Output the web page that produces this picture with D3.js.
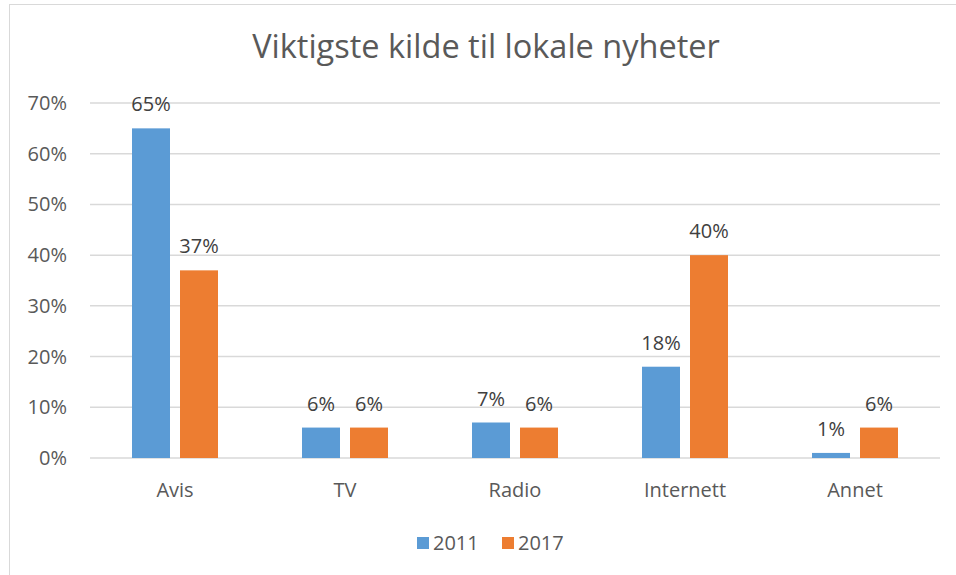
<!DOCTYPE html>
<html>
<head>
<meta charset="utf-8">
<script src="https://cdn.jsdelivr.net/npm/d3@7"></script>
<style>
  body { margin: 0; background: #fff; }
  text { font-family: "Open Sans", "Noto Sans", sans-serif; }
</style>
</head>
<body>
<script>
// Données
const categories = ["Avis", "TV", "Radio", "Internett", "Annet"];
const series = ["2011", "2017"];
const values2011 = [65, 6, 7, 18, 1];
const values2017 = [37, 6, 6, 40, 6];
const yTicks = [0, 10, 20, 30, 40, 50, 60, 70];
const colors = ["#5B9BD5", "#ED7D31"];

const width = 956, height = 575;

const svg = d3.select("body").append("svg")
    .attr("width", width)
    .attr("height", height);

// cadre du graphique
svg.append("rect")
    .attr("x", 9.5).attr("y", 4.5)
    .attr("width", 960).attr("height", 600)
    .attr("fill", "#fff")
    .attr("stroke", "#D9D9D9");

const y = d3.scaleLinear().domain([0, 70]).range([458, 103]);
const x0 = d3.scaleBand().domain(categories).range([90, 940]);
const x1 = d3.scaleBand().domain(series).range([42, 128]).paddingInner(0.2083);

// titre
svg.append("text")
    .attr("x", 486).attr("y", 58)
    .attr("text-anchor", "middle")
    .style("font-size", "32.5px")
    .style("fill", "#595959")
    .text("Viktigste kilde til lokale nyheter");

// grille
svg.append("g").selectAll("line")
    .data(yTicks)
    .enter().append("line")
    .attr("x1", 90).attr("x2", 940)
    .attr("y1", d => y(d)).attr("y2", d => y(d))
    .style("stroke", "#D9D9D9")
    .style("stroke-width", 1.5);

// étiquettes de l'axe Y
svg.append("g").selectAll("text")
    .data(yTicks)
    .enter().append("text")
    .attr("x", 67)
    .attr("y", d => y(d))
    .attr("dy", "0.35em")
    .attr("text-anchor", "end")
    .style("font-size", "20px")
    .style("fill", "#595959")
    .text(d => d + "%");

// barres
const rows = categories.map((c, i) => ({ cat: c, vals: [values2011[i], values2017[i]] }));

const groups = svg.append("g").selectAll("g")
    .data(rows)
    .enter().append("g")
    .attr("transform", d => `translate(${x0(d.cat)},0)`);

groups.selectAll("rect")
    .data(d => d.vals.map((v, i) => ({ s: series[i], v: v, i: i })))
    .enter().append("rect")
    .attr("x", d => x1(d.s))
    .attr("y", d => y(d.v))
    .attr("width", x1.bandwidth())
    .attr("height", d => y(0) - y(d.v))
    .style("fill", d => colors[d.i]);

groups.selectAll("text.label")
    .data(d => d.vals.map((v, i) => ({ s: series[i], v: v })))
    .enter().append("text")
    .attr("class", "label")
    .attr("x", d => x1(d.s) + x1.bandwidth() / 2)
    .attr("y", d => y(d.v) - 17)
    .attr("text-anchor", "middle")
    .style("font-size", "20px")
    .style("fill", "#404040")
    .text(d => d.v + "%");

// étiquettes des catégories
svg.append("g").selectAll("text")
    .data(categories)
    .enter().append("text")
    .attr("x", d => x0(d) + x0.bandwidth() / 2)
    .attr("y", 497)
    .attr("text-anchor", "middle")
    .style("font-size", "20px")
    .style("fill", "#595959")
    .text(d => d);

// légende
const legendX = [417, 502];
const legend = svg.append("g").selectAll("g")
    .data(series)
    .enter().append("g")
    .attr("transform", (d, i) => `translate(${legendX[i]},537)`);

legend.append("rect")
    .attr("width", 12).attr("height", 12)
    .style("fill", (d, i) => colors[i]);

legend.append("text")
    .attr("x", 16).attr("y", 6)
    .attr("dy", "0.35em")
    .style("font-size", "20px")
    .style("fill", "#595959")
    .text(d => d);
</script>
</body>
</html>
